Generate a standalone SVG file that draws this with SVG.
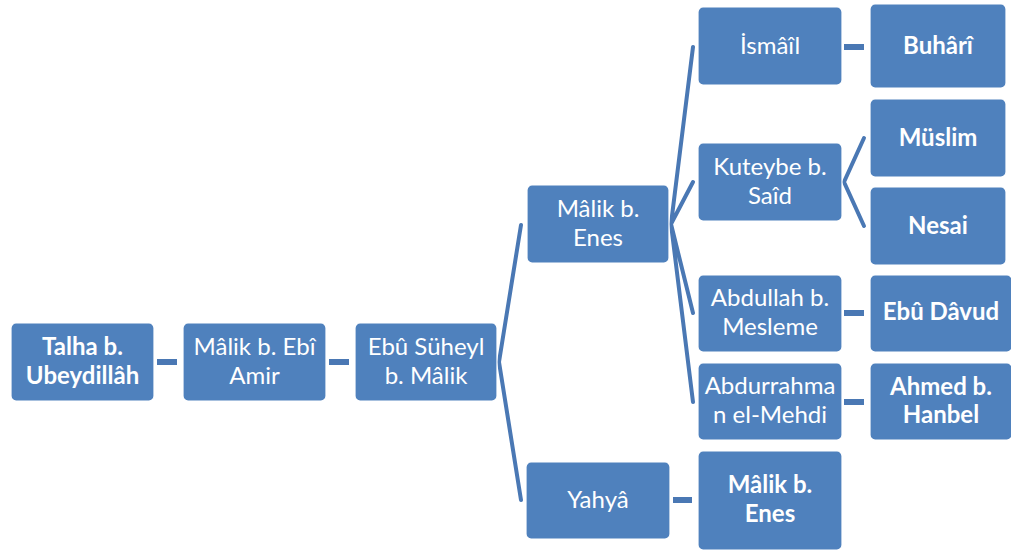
<svg xmlns="http://www.w3.org/2000/svg" width="1011" height="551" viewBox="0 0 1011 551">
<style>
.box{fill:#4f81bd;stroke:#ffffff;stroke-width:1.2}
.t{font-family:Lato,"Liberation Sans",sans-serif;font-size:24px;fill:#ffffff;text-anchor:middle}
.b{font-weight:bold}
.c{stroke:#4a78b4;stroke-width:6;fill:none}
.f{stroke:#4a78b4;stroke-width:4;fill:none;stroke-linecap:round}
</style>
<rect width="1011" height="551" fill="#ffffff"/>
<g id="connectors">
<line class="c" x1="157" y1="362" x2="177" y2="362"/>
<line class="c" x1="329" y1="362" x2="349" y2="362"/>
<line class="c" x1="844" y1="47" x2="864" y2="47"/>
<line class="c" x1="844" y1="313" x2="864" y2="313"/>
<line class="c" x1="844" y1="402" x2="864" y2="402"/>
<line class="c" x1="673" y1="500" x2="692" y2="500"/>
<path class="f" d="M521,225 L499,362 L521,500"/>
<path class="f" d="M693,47 L671,224 L693,182 M671,224 L693,313 M671,224 L693,402"/>
<path class="f" d="M864,138 L844,182 L864,226"/>
</g>
<g id="talha"><rect class="box" x="11" y="323" width="143" height="78" rx="5"/><text class="t b" x="82.5" y="355">Talha b.</text><text class="t b" x="82.5" y="384">Ubeydillâh</text></g>
<g id="malik-ebi-amir"><rect class="box" x="183" y="323" width="143" height="78" rx="5"/><text class="t" x="254.5" y="355">Mâlik b. Ebî</text><text class="t" x="254.5" y="384">Amir</text></g>
<g id="ebu-suheyl"><rect class="box" x="355" y="323" width="142" height="78" rx="5"/><text class="t" x="426" y="355">Ebû Süheyl</text><text class="t" x="426" y="384">b. Mâlik</text></g>
<g id="malik-enes"><rect class="box" x="527" y="185" width="142" height="78" rx="5"/><text class="t" x="598" y="217">Mâlik b.</text><text class="t" x="598" y="246">Enes</text></g>
<g id="yahya"><rect class="box" x="526" y="462" width="144" height="77" rx="5"/><text class="t" x="598" y="508">Yahyâ</text></g>
<g id="ismail"><rect class="box" x="698" y="7" width="144" height="78" rx="5"/><text class="t" x="770" y="54">İsmâîl</text></g>
<g id="kuteybe"><rect class="box" x="698" y="143" width="144" height="78" rx="5"/><text class="t" x="770" y="175">Kuteybe b.</text><text class="t" x="770" y="204">Saîd</text></g>
<g id="abdullah"><rect class="box" x="698" y="275" width="144" height="77" rx="5"/><text class="t" x="770" y="306">Abdullah b.</text><text class="t" x="770" y="335">Mesleme</text></g>
<g id="abdurrahman"><rect class="box" x="698" y="363" width="144" height="77" rx="5"/><text class="t" x="770" y="394">Abdurrahma</text><text class="t" x="770" y="423">n el-Mehdi</text></g>
<g id="malik-enes-2"><rect class="box" x="698" y="451" width="144" height="99" rx="5"/><text class="t b" x="770" y="493">Mâlik b.</text><text class="t b" x="770" y="522">Enes</text></g>
<g id="buhari"><rect class="box" x="870" y="4" width="136" height="84" rx="5"/><text class="t b" x="938" y="54">Buhârî</text></g>
<g id="muslim"><rect class="box" x="870" y="99" width="136" height="78" rx="5"/><text class="t b" x="938" y="146">Müslim</text></g>
<g id="nesai"><rect class="box" x="870" y="187" width="136" height="78" rx="5"/><text class="t b" x="938" y="234">Nesai</text></g>
<g id="ebu-davud"><rect class="box" x="870" y="275" width="142" height="77" rx="5"/><text class="t b" x="941" y="320">Ebû Dâvud</text></g>
<g id="ahmed"><rect class="box" x="870" y="363" width="142" height="77" rx="5"/><text class="t b" x="941" y="395">Ahmed b.</text><text class="t b" x="941" y="423">Hanbel</text></g>
</svg>
